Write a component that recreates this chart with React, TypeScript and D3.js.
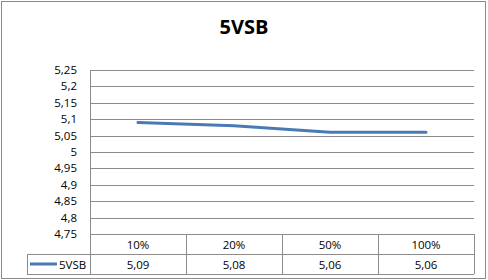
import React from "react";
import * as d3 from "d3";

const categories = ["10%", "20%", "50%", "100%"];
const seriesName = "5VSB";
const values = [5.09, 5.08, 5.06, 5.06];
const yTicks = [4.75, 4.8, 4.85, 4.9, 4.95, 5, 5.05, 5.1, 5.15, 5.2, 5.25];
const title = "5VSB";

const W = 488, H = 280;
const plotL = 90, plotR = 474, plotT = 70, plotB = 234;
const rowH = 20;
const legendL = 27;
const font = "'Open Sans', 'Noto Sans', sans-serif";
const lineColor = "#4a7ab4";
const gridColor = "#8c8c8c";

const fmt = (v: number) => String(+v.toFixed(2)).replace(".", ",");

export default function App() {
  const x = d3.scaleBand<string>().domain(categories).range([plotL, plotR]);
  const y = d3.scaleLinear().domain([4.75, 5.25]).range([plotB, plotT]);
  const line = d3
    .line<number>()
    .x((_, i) => (x(categories[i]) as number) + x.bandwidth() / 2)
    .y((d) => y(d));
  const tableBottom = plotB + rowH * 2;
  return (
    <svg width={W} height={H} style={{ position: "absolute", left: 0, top: 0 }} fontFamily={font}>
      <rect x={0} y={0} width={W} height={H} fill="#fff" />
      <rect x={1.5} y={1.5} width={W - 4} height={H - 3} fill="none" stroke="#8a8a8a" strokeWidth={1} />
      <text x={244} y={34} textAnchor="middle" fontSize={20} fontWeight="bold" fill="#000">{title}</text>
      {yTicks.map((t) => (
        <g key={t}>
          <line x1={plotL} x2={plotR} y1={Math.round(y(t)) + 0.5} y2={Math.round(y(t)) + 0.5} stroke={gridColor} />
          <text x={77} y={y(t) + 4} textAnchor="end" fontSize={11.5} fill="#000">{fmt(t)}</text>
        </g>
      ))}
      <line x1={plotL + 0.5} x2={plotL + 0.5} y1={plotT} y2={tableBottom} stroke={gridColor} />
      <line x1={legendL} x2={plotR} y1={plotB + rowH + 0.5} y2={plotB + rowH + 0.5} stroke={gridColor} />
      <line x1={legendL} x2={plotR} y1={tableBottom + 0.5} y2={tableBottom + 0.5} stroke={gridColor} />
      <line x1={legendL + 0.5} x2={legendL + 0.5} y1={plotB + rowH} y2={tableBottom} stroke={gridColor} />
      {categories.map((c, i) => {
        const cx = (x(c) as number) + x.bandwidth() / 2;
        const right = (x(c) as number) + x.bandwidth();
        return (
          <g key={c}>
            <line x1={Math.round(right) + 0.5} x2={Math.round(right) + 0.5} y1={plotB} y2={tableBottom} stroke={gridColor} />
            <text x={cx} y={plotB + 15} textAnchor="middle" fontSize={11.5} fill="#000">{c}</text>
            <text x={cx} y={plotB + rowH + 15} textAnchor="middle" fontSize={11.5} fill="#000">{fmt(values[i])}</text>
          </g>
        );
      })}
      <line x1={30} x2={57} y1={plotB + rowH + 10} y2={plotB + rowH + 10} stroke={lineColor} strokeWidth={3} />
      <text x={59} y={plotB + rowH + 15} fontSize={11.5} fill="#000">{seriesName}</text>
      <path d={line(values) || ""} fill="none" stroke={lineColor} strokeWidth={3} strokeLinecap="round" />
    </svg>
  );
}
